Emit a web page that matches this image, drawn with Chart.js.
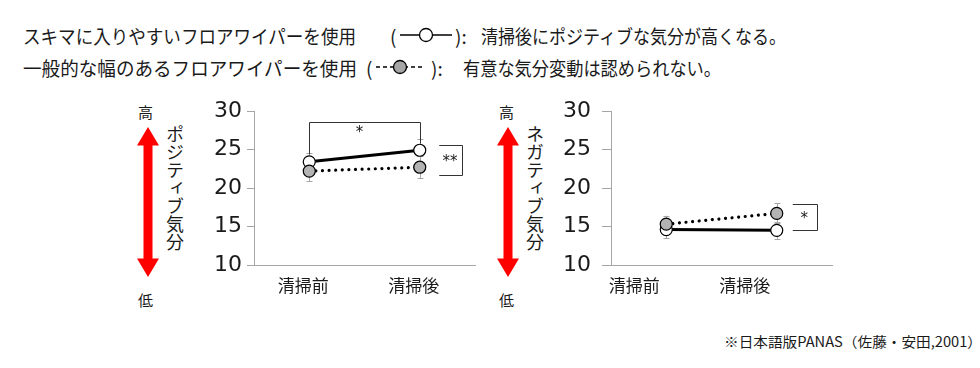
<!DOCTYPE html>
<html lang="ja">
<head>
<meta charset="utf-8">
<script src="https://cdn.jsdelivr.net/npm/chart.js@4/dist/chart.umd.min.js"></script>
<style>
  html, body { margin: 0; padding: 0; background: #fff; }
  body { width: 980px; height: 368px; position: relative; overflow: hidden;
         font-family: "Noto Sans CJK JP", "Noto Sans", sans-serif; color: #1a1a1a; }
  .t { position: absolute; white-space: nowrap; line-height: 1; transform-origin: 0 50%; }
  .v { position: absolute; writing-mode: vertical-rl; font-size: 18px; line-height: 1; }
  .c { position: absolute; }
  svg { position: absolute; left: 0; top: 0; }
</style>
</head>
<body>
<script>
// ---------- data ----------
const categories = ['清掃前', '清掃後'];
const yMin = 10, yMax = 30, yStep = 5;

// ポジティブ気分
const posGapWiper = [23.4, 24.9];      // スキマに入りやすいフロアワイパー (white, solid)
const posGapWiperErr = [1.2, 1.5];
const posStdWiper = [22.2, 22.7];      // 一般的な幅のあるフロアワイパー (gray, dotted)
const posStdWiperErr = [1.3, 1.4];

// ネガティブ気分
const negGapWiper = [14.6, 14.5];
const negGapWiperErr = [1.1, 1.1];
const negStdWiper = [15.3, 16.7];
const negStdWiperErr = [1.1, 1.3];

// significance brackets (y in data units)
const posTopBracket = { yTop: 28.55, yLeftEnd: 24.4, yRightEnd: 25.8, label: '*' };
const posSideBracket = { yTop: 25.6, yBottom: 21.7, label: '**' };
const negSideBracket = { yTop: 17.9, yBottom: 14.55, label: '*' };
</script>

<div class="t" data-w="333" style="left:23px;top:26px;font-size:19px;">スキマに入りやすいフロアワイパーを使用</div>
<div class="t" style="left:390px;top:26px;font-size:19px;">(</div>
<div class="t" style="left:455px;top:26px;font-size:19px;">):</div>
<div class="t" data-w="305" style="left:481px;top:26px;font-size:19px;">清掃後にポジティブな気分が高くなる。</div>

<div class="t" data-w="334" style="left:23px;top:58px;font-size:19px;">一般的な幅のあるフロアワイパーを使用</div>
<div class="t" style="left:366px;top:58px;font-size:19px;">(</div>
<div class="t" style="left:431px;top:58px;font-size:19px;">):</div>
<div class="t" data-w="258" style="left:463px;top:58px;font-size:19px;">有意な気分変動は認められない。</div>

<svg width="980" height="368">
  <g stroke="#000" stroke-width="1.3">
    <line x1="400" y1="35" x2="452" y2="35"/>
    <circle cx="426" cy="35" r="6.5" fill="#fff"/>
    <line x1="376" y1="67" x2="424" y2="67" stroke-dasharray="4 3"/>
    <circle cx="400" cy="67" r="6.5" fill="#a6a6a6"/>
  </g>
  <g fill="#ff0000">
    <polygon points="148,127 159,145.5 152.5,145.5 152.5,258.5 159,258.5 148,277 137,258.5 143.5,258.5 143.5,145.5 137,145.5"/>
    <polygon points="508,127 519,145.5 512.5,145.5 512.5,258.5 519,258.5 508,277 497,258.5 503.5,258.5 503.5,145.5 497,145.5"/>
  </g>
</svg>

<div class="t" style="left:138px;top:104px;font-size:15px;">高</div>
<div class="t" style="left:138px;top:292px;font-size:15px;">低</div>
<div class="t" style="left:499px;top:104px;font-size:15px;">高</div>
<div class="t" style="left:499px;top:292px;font-size:15px;">低</div>

<div class="v" style="left:166px;top:125px;">ポジティブ気分</div>
<div class="v" style="left:526px;top:125px;">ネガティブ気分</div>

<div class="t" data-w="258" style="left:724px;top:334px;font-size:14px;">※日本語版PANAS（佐藤・安田,2001）</div>

<canvas class="c" id="c1" width="300" height="210" style="left:190px;top:100px;"></canvas>
<canvas class="c" id="c2" width="300" height="210" style="left:545px;top:100px;"></canvas>

<script>
// fit text widths
document.querySelectorAll('.t[data-w]').forEach(el => {
  const w = +el.dataset.w;
  const a = el.getBoundingClientRect().width;
  if (a > 0) el.style.transform = 'scaleX(' + (w / a) + ')';
});

const errPlugin = {
  id: 'errbars',
  beforeDatasetsDraw(chart) {
    const ctx = chart.ctx, ys = chart.scales.y;
    ctx.save();
    ctx.strokeStyle = '#a6a6a6';
    ctx.lineWidth = 1;
    chart.data.datasets.forEach((ds, di) => {
      const meta = chart.getDatasetMeta(di);
      meta.data.forEach((pt, i) => {
        const v = ds.data[i], e = ds.err[i];
        const x = Math.round(pt.x) + 0.5;
        const y1 = ys.getPixelForValue(v + e), y2 = ys.getPixelForValue(v - e);
        ctx.beginPath();
        ctx.moveTo(x, y1); ctx.lineTo(x, y2);
        ctx.moveTo(x - 3, Math.round(y1) + 0.5); ctx.lineTo(x + 3, Math.round(y1) + 0.5);
        ctx.moveTo(x - 3, Math.round(y2) + 0.5); ctx.lineTo(x + 3, Math.round(y2) + 0.5);
        ctx.stroke();
      });
    });
    ctx.restore();
  }
};

const bracketPlugin = {
  id: 'brackets',
  afterDatasetsDraw(chart, args, opts) {
    const ctx = chart.ctx, ys = chart.scales.y, xs = chart.scales.x;
    const xPre = xs.getPixelForValue(0), xPost = xs.getPixelForValue(1);
    ctx.save();
    ctx.strokeStyle = '#333';
    ctx.lineWidth = 1;
    ctx.fillStyle = '#1a1a1a';
    ctx.textAlign = 'center';
    ctx.textBaseline = 'middle';
    ctx.font = '15px "DejaVu Sans", sans-serif';
    const r = v => Math.round(v) + 0.5;
    if (opts.top) {
      const b = opts.top;
      const yT = r(ys.getPixelForValue(b.yTop));
      ctx.beginPath();
      ctx.moveTo(r(xPre), ys.getPixelForValue(b.yLeftEnd));
      ctx.lineTo(r(xPre), yT);
      ctx.lineTo(r(xPost), yT);
      ctx.lineTo(r(xPost), ys.getPixelForValue(b.yRightEnd));
      ctx.stroke();
      ctx.fillText(b.label, (xPre + xPost) / 2 - 5, yT + 11);
    }
    if (opts.side) {
      const b = opts.side;
      const x0 = xPost + opts.sideFrom, x1 = r(xPost + opts.sideTo);
      const yT = r(ys.getPixelForValue(b.yTop)), yB = r(ys.getPixelForValue(b.yBottom));
      ctx.beginPath();
      ctx.moveTo(x0, yT); ctx.lineTo(x1, yT); ctx.lineTo(x1, yB); ctx.lineTo(x0, yB);
      ctx.stroke();
      ctx.fillText(b.label, (x0 + x1) / 2 - 1, (yT + yB) / 2 + 2);
    }
    ctx.restore();
  }
};

function makeChart(id, gap, gapErr, std, stdErr, cfg) {
  return new Chart(document.getElementById(id), {
    type: 'line',
    data: {
      labels: categories,
      datasets: [
        {
          label: '一般的な幅のあるフロアワイパー',
          data: std, err: stdErr, order: 1,
          borderColor: '#000', borderWidth: 3.2,
          borderDash: [0.01, 6.6], borderCapStyle: 'round',
          pointRadius: 6, pointBackgroundColor: '#b3b3b3',
          pointBorderColor: '#000', pointBorderWidth: 1.2
        },
        {
          label: 'スキマに入りやすいフロアワイパー',
          data: gap, err: gapErr, order: 2,
          borderColor: '#000', borderWidth: 3,
          pointRadius: 6, pointBackgroundColor: '#fff',
          pointBorderColor: '#000', pointBorderWidth: 1.2
        }
      ]
    },
    plugins: [errPlugin, bracketPlugin],
    options: {
      responsive: false,
      animation: false,
      devicePixelRatio: 1,
      layout: { padding: { top: 11, right: cfg.padRight, left: 0, bottom: 0 } },
      plugins: {
        legend: { display: false },
        tooltip: { enabled: false },
        brackets: cfg.brackets
      },
      scales: {
        x: {
          offset: true,
          grid: { display: true, drawOnChartArea: false, drawTicks: false, color: '#a6a6a6' },
          border: { color: '#a6a6a6', width: 1 },
          ticks: { padding: 12, labelOffset: cfg.labelOffset, color: '#1a1a1a',
                   font: { family: '"Noto Sans CJK JP", sans-serif', size: 17, lineHeight: 1 } },
          afterFit: s => { s.height = 45; s.paddingLeft = 0; s.paddingRight = 0; }
        },
        y: {
          min: yMin, max: yMax,
          grid: { drawOnChartArea: false, drawTicks: true, tickLength: cfg.tickLen, color: '#a6a6a6' },
          border: { color: '#a6a6a6', width: 1 },
          ticks: { stepSize: yStep, padding: cfg.tickPad, color: '#1a1a1a',
                   font: { family: '"DejaVu Sans", sans-serif', size: 22, lineHeight: 1 } },
          afterFit: s => { s.width = cfg.yWidth; s.paddingTop = 0; s.paddingBottom = 0; }
        }
      }
    }
  });
}

makeChart('c1', posGapWiper, posGapWiperErr, posStdWiper, posStdWiperErr, {
  padRight: 15, yWidth: 64, tickLen: 7, tickPad: 5, labelOffset: -6,
  brackets: { top: posTopBracket, side: posSideBracket, sideFrom: 19.5, sideTo: 42.5 }
});
makeChart('c2', negGapWiper, negGapWiperErr, negStdWiper, negStdWiperErr, {
  padRight: 13, yWidth: 66, tickLen: 9, tickPad: 11, labelOffset: -32,
  brackets: { side: negSideBracket, sideFrom: 16, sideTo: 40 }
});
</script>
</body>
</html>
